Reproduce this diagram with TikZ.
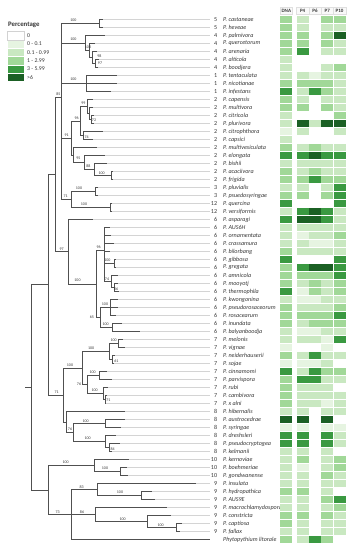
\documentclass[tikz,border=0pt]{standalone}
\usepackage{fontspec}
\setmainfont{Carlito}
\definecolor{lv0}{HTML}{FFFFFF}
\definecolor{lv1}{HTML}{E6F4E1}
\definecolor{lv2}{HTML}{C9E8C1}
\definecolor{lv3}{HTML}{A1D898}
\definecolor{lv4}{HTML}{3A9941}
\definecolor{lv5}{HTML}{1B6024}
\definecolor{branch}{HTML}{505050}
\definecolor{lead}{HTML}{D4D4D4}
\definecolor{txt}{HTML}{383838}
\tikzset{
 br/.style={draw=branch, line width=0.8pt},
 leader/.style={draw=lead, line width=0.4pt},
 spn/.style={anchor=west, inner sep=0pt, font=\fontsize{6.1}{6.1}\selectfont\itshape, text=txt},
 cnum/.style={anchor=east, inner sep=0pt, font=\fontsize{6.1}{6.1}\selectfont, text=txt},
 bs/.style={inner sep=0pt, font=\fontsize{4}{4}\selectfont, text=txt},
 hdr/.style={draw=gray!25, fill=gray!5, line width=0.3pt, inner sep=0pt, font=\fontsize{5}{5}\selectfont\bfseries, text=txt},
 leg/.style={anchor=west, inner sep=0pt, font=\fontsize{5.8}{5.8}\selectfont, text=txt},
 legbox/.style={line width=0.3pt},
}
\begin{document}
\begin{tikzpicture}[x=1pt,y=-1pt]
\path[use as bounding box, fill=white] (0,0) rectangle (356,550);

% legend
\node[anchor=west, inner sep=0pt, font=\fontsize{6.8}{6.8}\selectfont\bfseries, text=txt] (legtitle) at (8,25) {Percentage};
\foreach \lc/\lt [count=\k] in {lv0/0, lv1/0 - 0.1, lv2/0.1 - 0.99, lv3/1 - 2.99, lv4/3 - 5.99, lv5/>6}{
  \pgfmathsetmacro\ly{31.5+8.3*(\k-1)}
  \path[legbox, fill=\lc, draw=white] (7.5,\ly) rectangle (24,\ly+8.3);
  \node[leg] (leg\k) at (27,\ly+4.15) {\lt};
}
\draw[gray!35, line width=0.3pt] (7.5,31.5) rectangle (24,39.8);

% heatmap headers
\node[hdr, minimum width=12.4pt, minimum height=7pt] (hDNA) at (286.3,11) {DNA};
\node[hdr, minimum width=12.3pt, minimum height=7pt] (hP4) at (302.6,11) {P4};
\node[hdr, minimum width=12.3pt, minimum height=7pt] (hP6) at (315,11) {P6};
\node[hdr, minimum width=12.3pt, minimum height=7pt] (hP7) at (327.3,11) {P7};
\node[hdr, minimum width=12.3pt, minimum height=7pt] (hP10) at (339.6,11) {P10};

% taxa, leaders, heatmap
\foreach \i/\cl/\nm/\tx/\va/\vb/\vc/\vd/\ve in {
1/5/P. castaneae/103.3/3/2/0/3/3,
2/5/P. heveae/103.3/3/2/0/2/2,
3/4/P. palmivora/105/3/3/0/3/5,
4/4/P. quercetorum/95/3/3/0/3/2,
5/4/P. arenaria/97/3/4/0/2/2,
6/4/P. alticola/99/2/0/0/0/0,
7/4/P. boodjera/98/2/0/0/2/3,
8/1/P. tentaculata/116.7/2/2/1/2/2,
9/1/P. nicotianae/116.7/3/3/3/3/2,
10/1/P. infestans/111/4/2/4/3/2,
11/2/P. capensis/93.3/3/2/0/2/2,
12/2/P. multivora/93/3/3/0/3/2,
13/2/P. citricola/94/2/0/0/0/3,
14/2/P. plurivora/94/2/5/2/5/5,
15/2/P. citrophthora/103.3/1/2/0/0/2,
16/2/P. capsici/93.3/2/0/0/0/0,
17/2/P. multivesiculata/96.7/3/2/3/2/2,
18/2/P. elongata/105/4/4/5/4/4,
19/2/P. bishii/106.7/2/2/2/2/2,
20/2/P. acaciivora/113/3/2/3/2/2,
21/2/P. frigida/113/3/3/4/3/3,
22/3/P. pluvialis/97.5/2/2/0/2/4,
23/3/P. psuedosyringae/97.5/3/3/0/3/4,
24/12/P. quercina/111.5/4/0/0/0/4,
25/12/P. versiformis/111.5/2/4/5/4/2,
26/6/P. asparagi/92.7/4/5/5/4/2,
27/6/P. AUS6H/110/2/2/2/2/2,
28/6/P. ornamentata/111/2/1/2/2/3,
29/6/P. crassamura/114/2/2/1/1/2,
30/6/P. bilorbang/110/3/2/2/2/2,
31/6/P. gibbosa/116/4/0/0/0/4,
32/6/P. gregata/116/3/4/5/5/4,
33/6/P. amnicola/118/3/3/3/3/4,
34/6/P. mooyotj/118/3/2/3/2/3,
35/6/P. thermophila/119/4/1/3/2/3,
36/6/P. kwongonina/118/2/1/1/2/2,
37/6/P. pseudorosaceorum/118/3/2/2/2/3,
38/6/P. rosacearum/116/3/3/3/3/4,
39/6/P. inundata/121.7/3/2/3/3/3,
40/6/P. balyanboodja/140/2/1/1/2/2,
41/7/P. melonis/123.3/2/2/2/1/4,
42/7/P. vignae/125/1/0/0/1/0,
43/7/P. neiderhauserii/115/3/2/4/2/2,
44/7/P. sojae/114/1/1/1/2/0,
45/7/P. cinnamomi/107.3/4/2/4/3/3,
46/7/P. parvispora/111.7/3/4/4/2/2,
47/7/P. rubi/108.3/3/2/2/2/0,
48/7/P. cambivora/107/3/2/2/2/2,
49/7/P. x alni/106/3/2/2/1/2,
50/8/P. hibernalis/125/2/2/0/2/2,
51/8/P. austrocedrae/125/5/5/0/5/0,
52/8/P. syringae/121/1/1/0/1/1,
53/8/P. dreshsleri/116/4/4/0/4/2,
54/8/P. pseudocryptogea/120/4/4/0/4/2,
55/8/P. kelmanii/112/2/2/0/2/0,
56/10/P. kernoviae/129/2/3/0/2/3,
57/10/P. boehmeriae/127.3/2/1/0/2/3,
58/10/P. gondwanense/128.3/2/2/0/3/2,
59/9/P. insulata/196/2/2/0/2/2,
60/9/P. hydropathica/151.7/3/3/0/2/0,
61/9/P. AUS9E/155/2/2/0/3/4,
62/9/P. macrochlamydospora/166.7/2/2/0/2/3,
63/9/P. constricta/170.7/3/3/0/3/2,
64/9/P. captiosa/182/3/2/0/2/2,
65/9/P. fallax/180/2/2/0/2/2,
66//Phytopythium litorale/210/3/2/4/3/0}{
  \pgfmathsetmacro\yy{19.5+8*(\i-1)}
  \coordinate (L\i) at (\tx,\yy);
  \coordinate (E\i) at (210,\yy);
  \node[cnum] (C\i) at (217.3,\yy) {\cl};
  \node[spn] (N\i) at (223,\yy) {\nm};
  \draw[leader] (L\i) -- (E\i);
  \fill[lv\va] (280.3,\yy-3.65) rectangle (292.4,\yy+3.65);
  \fill[lv\vb] (296.6,\yy-3.65) rectangle (308.6,\yy+3.65);
  \fill[lv\vc] (309.0,\yy-3.65) rectangle (320.9,\yy+3.65);
  \fill[lv\vd] (321.3,\yy-3.65) rectangle (333.2,\yy+3.65);
  \fill[lv\ve] (333.6,\yy-3.65) rectangle (345.6,\yy+3.65);
}

% internal nodes of the tree
\foreach \n/\nx/\ny in {root/31.7/387.4, A/48.3/284.8, B/55/174.6, C/61.7/97.5,
 c5/99.3/23.5, c4/85/43, c4b/89/50.5, c4c/92.5/57.5, c4d/95.5/63.5, c1/86/83.5,
 D/71.7/138, E/80.7/121, E99/87/106.5, E2/89.5/113.5, E72/91.5/119.5, E74/83.3/135.5,
 F/73/155, G/84.3/162.5, H/94/169.5, I/111/175.5, J/71/199.5, J1/95/191.5, J2/110/207.5,
 K/68.3/251.75, nL/96.7/284, M/104/250.5, M1/114/263.5, M2/111.7/281.5, M3/114/287.5,
 N/100/317.5, N1/110/307.5, N2/112.7/327.5, P/63.3/395, P7/82.3/368, Q/109.5/351.5,
 R/118.3/343.5, S/112.7/359.5, T/87.3/384.5, T1/99.3/375.5, T2/103.3/393.5, T3/105/399.5,
 P8/66.7/422, U/73.3/432.5, U1/105.7/423.5, U2/105.7/441.5, U3/109.3/447.5,
 Z/48.3/490, Z1/94.3/465.5, Z1b/120.7/471.5, Z2/71.7/514.5, V/97.3/489.5, V1/141.7/495.5,
 W/95.7/514.5, W1/147.3/521.5, W2/176.7/527.5}{
  \coordinate (\n) at (\nx,\ny);
}
\coordinate (rs) at (25,387.4);
\draw[br] (rs) -- (root);

\foreach \p/\q in {root/A, root/Z, A/B, A/P, B/C, B/K,
 C/c5, C/c4, C/c1, C/D, C/J,
 c5/L1, c5/L2, c4/L3, c4/c4b, c4b/L4, c4b/c4c, c4c/L5, c4c/c4d, c4d/L6, c4d/L7,
 c1/L8, c1/L9, c1/L10,
 D/E, D/F, E/E99, E/E74, E99/L11, E99/E2, E2/L12, E2/E72, E72/L13, E72/L14,
 E74/L15, E74/L16, F/L17, F/G, G/L18, G/H, H/L19, H/I, I/L20, I/L21,
 J/J1, J/J2, J1/L22, J1/L23, J2/L24, J2/L25,
 K/L26, K/nL, nL/M, nL/N, M/L27, M/L28, M/L29, M/L30, M/M1, M/M2,
 M1/L31, M1/L32, M2/L33, M2/M3, M3/L34, M3/L35,
 N/N1, N/N2, N1/L36, N1/L37, N1/L38, N2/L39, N2/L40,
 P/P7, P/P8, P7/Q, P7/T, Q/R, Q/S, R/L41, R/L42, S/L43, S/L44,
 T/T1, T/T2, T1/L45, T1/L46, T2/L47, T2/T3, T3/L48, T3/L49,
 P8/L50, P8/U, U/U1, U/U2, U1/L51, U1/L52, U2/L53, U2/U3, U3/L54, U3/L55,
 Z/Z1, Z/Z2, Z1/L56, Z1/Z1b, Z1b/L57, Z1b/L58,
 Z2/V, Z2/W, Z2/L66, V/L59, V/V1, V1/L60, V1/L61,
 W/L62, W/W1, W1/L63, W1/W2, W2/L64, W2/L65}{
  \draw[br] (\p) |- (\q);
}

% bootstrap values
\foreach \t/\bx/\by [count=\k] in {100/73.3/20, 100/73.3/39.3, 100/88/47.5, 98/99.3/56, 97/100/63.3,
 100/73.3/79.3, 85/58.3/94, 99/83.3/102.7, 96/76.7/117.7, 72/94/120.5, 74/86.7/137.7,
 91/66.7/135, 95/78.3/158.5, 88/88.3/165.7, 100/101.7/173, 71/65.7/196, 100/79/188.5,
 100/84/204.5, 97/61.7/248.7, 100/77.5/280.7, 96/98.7/247.5, 100/107.3/260.7, 74/107/279.3,
 86/116/289.3, 65/91.8/317.3, 100/105/304.3, 100/105.7/324, 71/56.7/392.3, 100/70/365,
 100/91.2/348.3, 100/113.7/340.3, 61/116.3/361, 76/79/384.3, 100/92.7/372.7, 100/94.7/390.7,
 71/108.3/400, 76/70/429.3, 100/85.7/421, 100/87.7/438.3, 84/112.7/449.3, 100/65.7/462.7,
 100/105/468.3, 73/57.7/512.3, 83/81.7/486.7, 100/120/492.7, 86/82/512.3, 100/122.7/519.3,
 100/160.7/525}{
  \node[bs] (bs\k) at (\bx,\by) {\t};
}
\end{tikzpicture}
\end{document}
